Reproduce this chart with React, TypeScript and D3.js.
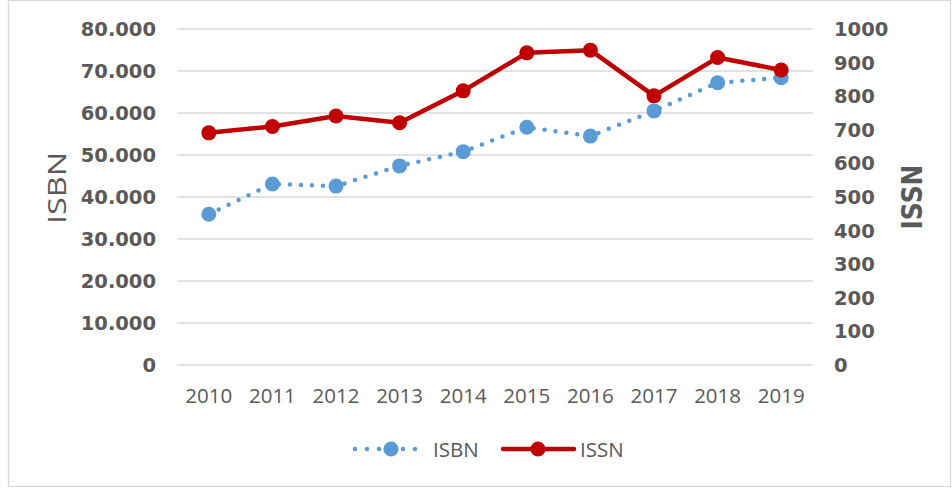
import React from 'react';
import * as d3 from 'd3';

// chart data
const years = ['2010', '2011', '2012', '2013', '2014', '2015', '2016', '2017', '2018', '2019'];
const isbnValues = [35900, 43100, 42600, 47400, 50800, 56600, 54500, 60500, 67200, 68400];
const issnValues = [691, 710, 741, 721, 816, 929, 937, 801, 915, 878];
const isbnTicks = [0, 10000, 20000, 30000, 40000, 50000, 60000, 70000, 80000];
const issnTicks = [0, 100, 200, 300, 400, 500, 600, 700, 800, 900, 1000];

const W = 952;
const H = 490;
const margin = { top: 29, right: 139, bottom: 125, left: 177 };

const BLUE = '#5B9BD5';
const RED = '#C00000';
const GREY = '#595959';
const GRID = '#D9D9D9';

const fmtLeft = (v: number) => (v === 0 ? '0' : d3.format(',')(v).replace(/,/g, '.'));

const App: React.FC = () => {
  const x = d3.scaleBand<string>()
    .domain(years)
    .range([margin.left, W - margin.right]);

  const yLeft = d3.scaleLinear()
    .domain([0, 80000])
    .range([H - margin.bottom, margin.top]);

  const yRight = d3.scaleLinear()
    .domain([0, 1000])
    .range([H - margin.bottom, margin.top]);

  const cx = (d: string) => x(d)! + x.bandwidth() / 2;

  const isbnLine = d3.line<number>()
    .x((_, i) => cx(years[i]))
    .y(d => yLeft(d));

  const issnLine = d3.line<number>()
    .x((_, i) => cx(years[i]))
    .y(d => yRight(d));

  const tickFont = { fontFamily: '"DejaVu Sans", Verdana, sans-serif', fontWeight: 700, fontSize: 19.5, fill: GREY };
  const labelFont = { fontFamily: '"Open Sans", sans-serif', fontSize: 20.5, fill: GREY };

  const legendY = 449;

  return (
    <svg
      width={W}
      height={H}
      style={{ position: 'absolute', left: 0, top: 0, background: '#fff' }}
    >
      {/* outer frame */}
      <rect x={8.5} y={0.5} width={942} height={486} fill="#fff" stroke={GRID} strokeWidth={1.3} />

      {/* gridlines */}
      {isbnTicks.map(t => (
        <line
          key={t}
          x1={margin.left}
          x2={W - margin.right}
          y1={yLeft(t)}
          y2={yLeft(t)}
          stroke={GRID}
          strokeWidth={1.4}
        />
      ))}

      {/* left axis labels */}
      {isbnTicks.map(t => (
        <text key={t} x={156} y={yLeft(t)} dy="0.36em" textAnchor="end" style={tickFont}>
          {fmtLeft(t)}
        </text>
      ))}

      {/* right axis labels */}
      {issnTicks.map(t => (
        <text key={t} x={834} y={yRight(t)} dy="0.36em" textAnchor="start" style={tickFont}>
          {t}
        </text>
      ))}

      {/* category labels */}
      {years.map(y => (
        <text key={y} x={cx(y)} y={403} textAnchor="middle" style={labelFont}>
          {y}
        </text>
      ))}

      {/* axis titles */}
      <text
        transform="translate(66,188) rotate(-90)"
        textAnchor="middle"
        textLength={72}
        lengthAdjust="spacingAndGlyphs"
        style={{ fontFamily: '"Open Sans", sans-serif', fontSize: 26, fill: GREY }}
      >
        ISBN
      </text>
      <text
        transform="translate(922,197) rotate(-90)"
        textAnchor="middle"
        textLength={65}
        lengthAdjust="spacingAndGlyphs"
        style={{ fontFamily: '"DejaVu Sans", sans-serif', fontWeight: 700, fontSize: 28, fill: GREY }}
      >
        ISSN
      </text>

      {/* ISBN series */}
      <path
        d={isbnLine(isbnValues)!}
        fill="none"
        stroke={BLUE}
        strokeWidth={4.5}
        strokeDasharray="0 11"
        strokeLinecap="round"
        strokeLinejoin="round"
      />
      {isbnValues.map((v, i) => (
        <circle key={i} cx={cx(years[i])} cy={yLeft(v)} r={7.5} fill={BLUE} />
      ))}

      {/* ISSN series */}
      <path
        d={issnLine(issnValues)!}
        fill="none"
        stroke={RED}
        strokeWidth={4.5}
        strokeLinejoin="round"
      />
      {issnValues.map((v, i) => (
        <circle key={i} cx={cx(years[i])} cy={yRight(v)} r={7.5} fill={RED} />
      ))}

      {/* legend */}
      <line x1={355} x2={420} y1={legendY} y2={legendY} stroke={BLUE} strokeWidth={4.5} strokeDasharray="0 12" strokeLinecap="round" />
      <circle cx={391} cy={legendY} r={7.5} fill={BLUE} />
      <text x={433} y={457} style={labelFont}>ISBN</text>

      <line x1={503} x2={574} y1={legendY} y2={legendY} stroke={RED} strokeWidth={4.5} strokeLinecap="round" />
      <circle cx={538} cy={legendY} r={7.5} fill={RED} />
      <text x={580} y={457} style={labelFont}>ISSN</text>
    </svg>
  );
};

export default App;
